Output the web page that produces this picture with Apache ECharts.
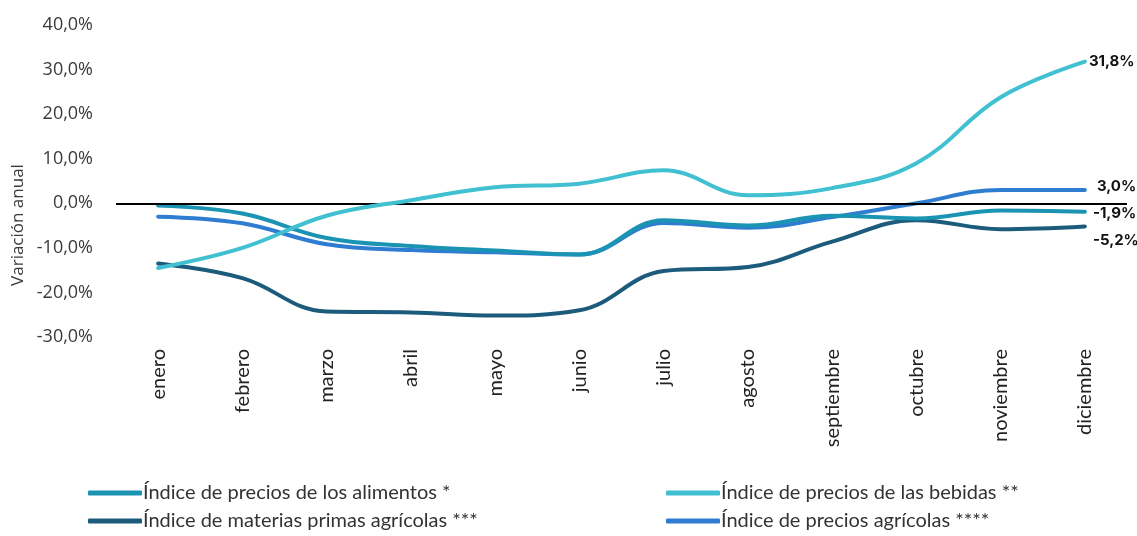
<!DOCTYPE html>
<html>
<head>
<meta charset="utf-8">
<script src="https://cdn.jsdelivr.net/npm/echarts@6/dist/echarts.min.js"></script>
<style>
  html, body { margin: 0; padding: 0; background: #fff; }
  #chart { width: 1137px; height: 536px; }
</style>
</head>
<body>
<div id="chart"></div>
<script>
const months = ['enero', 'febrero', 'marzo', 'abril', 'mayo', 'junio', 'julio',
  'agosto', 'septiembre', 'octubre', 'noviembre', 'diciembre']

const alimentos = [-0.5, -2.3, -7.8, -9.6, -10.6, -11.5, -3.8, -5.0, -2.8, -3.4, -1.6, -1.9]
const bebidas = [-14.5, -10.0, -2.8, 0.7, 3.6, 4.4, 7.4, 1.8, 3.4, 9.0, 23.8, 31.8]
const materias = [-13.5, -16.8, -24.3, -24.5, -25.2, -24.0, -15.2, -14.3, -8.6, -3.8, -5.8, -5.2]
const agricolas = [-3.0, -4.5, -9.2, -10.5, -11.0, -11.5, -4.4, -5.5, -3.1, 0.0, 3.0, 3.0]

const yTicks = { min: -30, max: 40, interval: 10 }

const fmtPct = v => v.toFixed(1).replace('.', ',') + '%'

const chart = echarts.init(document.getElementById('chart'))

const lineSeries = (name, data, color, z, labelOffset) => ({
  name: name,
  type: 'line',
  data: data,
  smooth: 0.4,
  showSymbol: false,
  z: z,
  lineStyle: { color: color, width: 4, cap: 'round' },
  itemStyle: { color: color },
  endLabel: {
    show: true,
    formatter: p => fmtPct(p.value),
    color: '#111',
    fontFamily: 'Inter',
    fontWeight: 'bold',
    fontSize: 15,
    offset: labelOffset,
  },
})

const legendText = { color: '#333', fontFamily: 'Lato', fontSize: 20, lineHeight: 24, padding: [0, 0, 0, -4] }

chart.setOption({
  animation: false,
  grid: { left: 116, right: 10, top: 25, bottom: 199 },
  xAxis: {
    type: 'category',
    data: months,
    boundaryGap: true,
    axisLine: { show: false },
    axisTick: { show: false },
    axisLabel: {
      rotate: 90,
      margin: 12,
      color: '#222',
      fontFamily: 'Lato',
      fontSize: 20,
    },
  },
  yAxis: {
    type: 'value',
    min: yTicks.min,
    max: yTicks.max,
    interval: yTicks.interval,
    splitLine: { show: false },
    axisLine: { show: false },
    axisTick: { show: false },
    axisLabel: {
      margin: 23,
      color: '#3a3a3a',
      fontFamily: 'Open Sans',
      fontSize: 18,
      formatter: v => fmtPct(v),
    },
  },
  legend: [
    {
      left: 88,
      top: 481,
      height: 80,
      padding: 0,
      orient: 'vertical',
      itemGap: 4,
      itemWidth: 54,
      itemHeight: 5,
      icon: 'roundRect',
      textStyle: legendText,
      data: ['Índice de precios de los alimentos *', 'Índice de materias primas agrícolas ***'],
    },
    {
      left: 666,
      top: 481,
      height: 80,
      padding: 0,
      orient: 'vertical',
      itemGap: 4,
      itemWidth: 54,
      itemHeight: 5,
      icon: 'roundRect',
      textStyle: legendText,
      data: ['Índice de precios de las bebidas **', 'Índice de precios agrícolas ****'],
    },
  ],
  graphic: [
    {
      type: 'text',
      x: 10,
      y: 225,
      rotation: Math.PI / 2,
      style: {
        text: 'Variación anual',
        fill: '#3a3a3a',
        font: '17px "Open Sans"',
        align: 'center',
        verticalAlign: 'top',
      },
    },
  ],
  series: [
    Object.assign(lineSeries('Índice de materias primas agrícolas ***', materias, '#1c5b7c', 2, [0, 14]), {
      markLine: {
        silent: true,
        symbol: 'none',
        label: { show: false },
        lineStyle: { color: '#000', width: 2, type: 'solid' },
        data: [{ yAxis: 0 }],
      },
    }),
    lineSeries('Índice de precios agrícolas ****', agricolas, '#2e7dd1', 3, [4, -3]),
    lineSeries('Índice de precios de los alimentos *', alimentos, '#1b94b4', 4, [0, 2]),
    lineSeries('Índice de precios de las bebidas **', bebidas, '#40c0d0', 5, [-4, 0]),
  ],
})
</script>
</body>
</html>
